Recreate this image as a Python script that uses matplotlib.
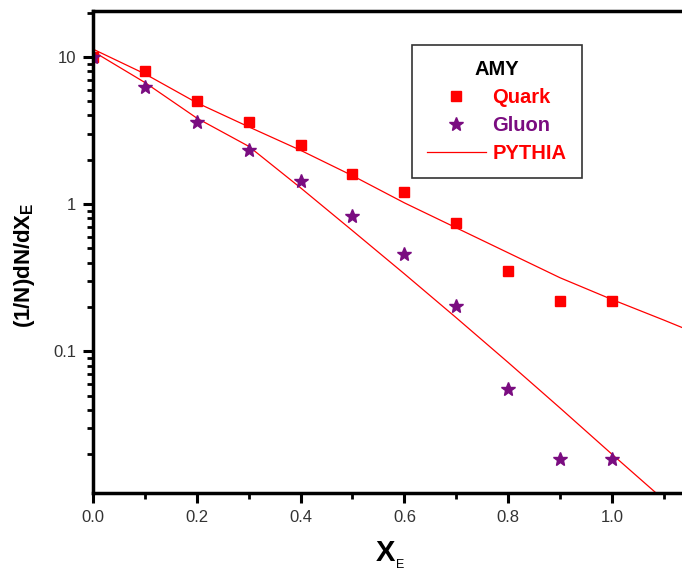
import matplotlib.pyplot as plt
from matplotlib.ticker import FixedLocator, FixedFormatter, NullFormatter

plt.rcParams['font.family'] = ['Liberation Sans', 'DejaVu Sans']

# AMY data points
x_pts = [0.0, 0.1, 0.2, 0.3, 0.4, 0.5, 0.6, 0.7, 0.8, 0.9, 1.0]
quark = [10.0, 8.04, 4.98, 3.6, 2.53, 1.59, 1.21, 0.745, 0.351, 0.219, 0.219]
gluon = [10.0, 6.2, 3.6, 2.32, 1.44, 0.826, 0.459, 0.203, 0.0552, 0.0185, 0.0185]

# PYTHIA curves
x_py = [0.0, 0.1, 0.2, 0.3, 0.4, 0.5, 0.6, 0.7, 0.8, 0.9, 1.0, 1.1, 1.2]
py_quark = [11.3, 7.67, 4.88, 3.35, 2.32, 1.56, 1.02, 0.69, 0.467, 0.316, 0.225, 0.163, 0.117]
py_gluon = [10.9, 6.7, 3.84, 2.47, 1.29, 0.66, 0.336, 0.169, 0.084, 0.0412, 0.020, 0.0098, 0.0047]

y_ticks = [0.1, 1, 10]
y_ticklabels = ['0.1', '1', '10']
x_ticks = [0.0, 0.2, 0.4, 0.6, 0.8, 1.0]

red = '#ff0000'
purple = '#7a0c80'

fig = plt.figure(figsize=(6.82, 5.74), dpi=100)
ax = fig.add_axes([0.1364, 0.1411, 0.8636, 0.8397])

ax.plot(x_py, py_quark, color=red, lw=0.9, label='PYTHIA')
ax.plot(x_py, py_gluon, color=red, lw=0.9)
ax.plot(x_pts, quark, 's', color=red, ms=7.5, ls='none', label='Quark')
ax.plot(x_pts, gluon, '*', color=purple, ms=10, ls='none', label='Gluon')

ax.set_yscale('log')
ax.set_xlim(0, 1.135)
ax.set_ylim(0.0109, 20.5)

ax.yaxis.set_major_locator(FixedLocator(y_ticks))
ax.yaxis.set_major_formatter(FixedFormatter(y_ticklabels))
minor_y = [m * 10.0 ** e for e in range(-2, 2) for m in range(2, 10)]
ax.yaxis.set_minor_locator(FixedLocator(minor_y))
ax.yaxis.set_minor_formatter(NullFormatter())

ax.set_xticks(x_ticks)
ax.set_xticklabels(['%.1f' % v for v in x_ticks])
ax.set_xticks([0.1, 0.3, 0.5, 0.7, 0.9, 1.1], minor=True)

ax.tick_params(which='major', direction='out', length=7, width=2.2,
               labelsize=12, labelcolor='#333333', pad=5)
ax.tick_params(which='minor', direction='out', length=4, width=2.0)

for side in ['left', 'bottom', 'top']:
    ax.spines[side].set_linewidth(2.5)
ax.spines['right'].set_visible(False)

# axis labels
ax.text(0.496, -0.124, 'X', transform=ax.transAxes, fontsize=21,
        fontweight='bold', ha='center', va='center')
ax.text(0.522, -0.150, 'E', transform=ax.transAxes, fontsize=9,
        ha='center', va='center')
ax.set_ylabel('(1/N)dN/dX$_\\mathregular{E}$', fontsize=16, fontweight='bold')
ax.yaxis.set_label_coords(-0.095, 0.473)

handles, labels = ax.get_legend_handles_labels()
order = [1, 2, 0]
leg = ax.legend([handles[i] for i in order], [labels[i] for i in order],
                title='AMY', loc='upper left', bbox_to_anchor=(0.5416, 0.9295),
                borderaxespad=0, frameon=True, fancybox=False, edgecolor='black',
                prop={'weight': 'bold', 'size': 14.5},
                title_fontproperties={'weight': 'bold', 'size': 14.5},
                handlelength=2.9, handletextpad=0.35, borderpad=0.75,
                labelspacing=0.45)
leg.get_frame().set_linewidth(1.2)
for txt, col in zip(leg.get_texts(), [red, purple, red]):
    txt.set_color(col)

fig.savefig('out.png', dpi=100)
